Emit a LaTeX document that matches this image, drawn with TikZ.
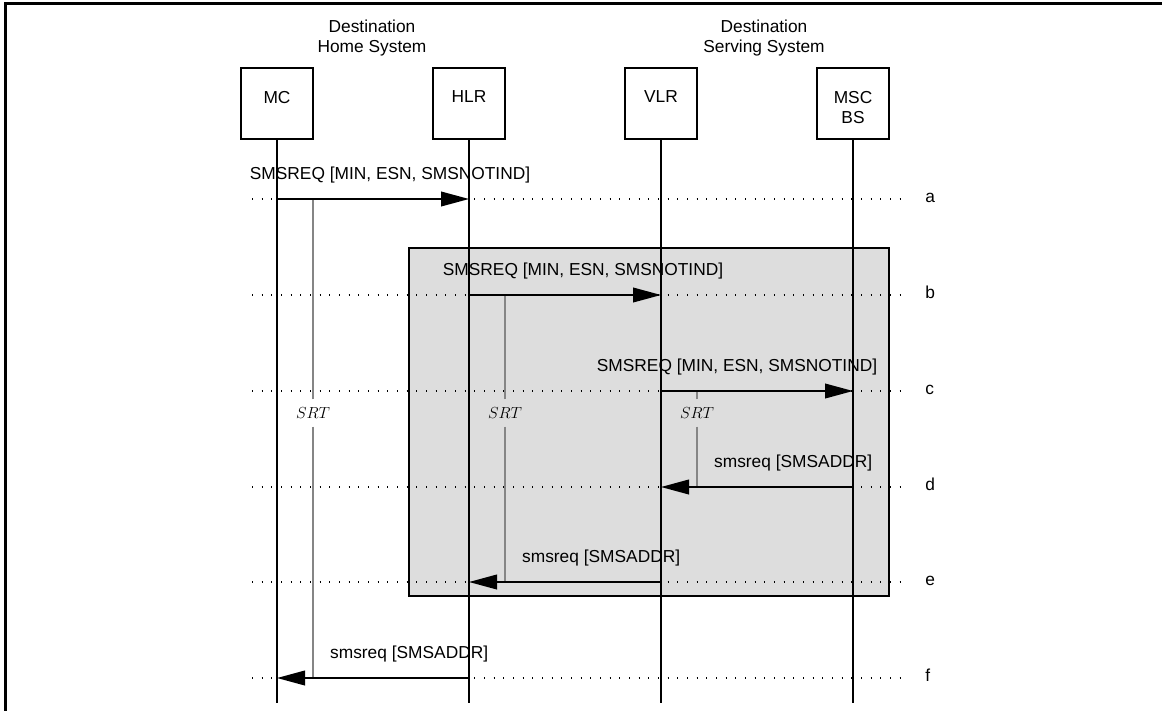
\documentclass[tikz,border=0pt]{standalone}
\usepackage{fontspec}
\setmainfont{Liberation Sans}
\usetikzlibrary{arrows.meta, positioning}
\definecolor{boxgray}{HTML}{DDDDDD}
\definecolor{srtgray}{HTML}{858585}
\tikzstyle{entity} = [rectangle, draw, line width=1.3pt, minimum width=54pt, minimum height=53pt]
\tikzstyle{entname} = [inner sep=0pt, align=center]
\tikzstyle{header} = [align=center, inner sep=0pt]
\tikzstyle{lifeline} = [line width=1.3pt]
\tikzstyle{rowline} = [line width=0.8pt, dash pattern=on 0.8pt off 6.45pt]
\tikzstyle{rowname} = [anchor=mid west, inner sep=0pt]
\tikzstyle{msg} = [line width=1.3pt, -{Triangle[length=21pt, width=11pt]}]
\tikzstyle{msgtext} = [inner sep=0pt, yshift=14.5pt]
\tikzstyle{srt} = [inner sep=1pt, minimum height=20pt, font=\fontsize{12.5}{14}\selectfont]
\tikzstyle{srtline} = [draw=srtgray, line width=1.3pt]
\tikzstyle{group} = [draw, fill=boxgray, line width=1.3pt]
\tikzstyle{frame} = [line width=2.25pt]

\begin{document}
\begin{tikzpicture}[x=0.75pt, y=-0.75pt, font=\fontsize{13}{15}\selectfont]
        \useasboundingbox (0,0) rectangle (1162,710);
        \draw[frame] (5.5,720) -- (5.5,4) -- (1170,4);
        \draw[group] (409,248) rectangle (889,596);
        \coordinate (bottom) at (0,703);
        \foreach \r/\y in {a/199,b/295,c/391,d/487,e/582,f/678} {
            \coordinate (row-\r) at (252,\y);
            \coordinate (end-\r) at (903,\y);
            \draw[rowline] (row-\r) -- (end-\r);
            \node[rowname] (name-\r) at (925,\y) {\r};
        }
        \node[header] (home) at (372,37.6) {Destination\\Home System};
        \node[header] (serving) at (764,37.6) {Destination\\Serving System};
        \node[srt] (srt-1) at (313,413) {$SRT$};
        \node[srt] (srt-2) at (505,413) {$SRT$};
        \node[srt] (srt-3) at (697,413) {$SRT$};
        \draw[srtline] (srt-1) -- (srt-1 |- row-a);
        \draw[srtline] (srt-1) -- (srt-1 |- row-f);
        \draw[srtline] (srt-2) -- (srt-2 |- row-b);
        \draw[srtline] (srt-2) -- (srt-2 |- row-e);
        \draw[srtline] (srt-3) -- (srt-3 |- row-c);
        \draw[srtline] (srt-3) -- (srt-3 |- row-d);
        \foreach \n/\x/\t in {mc/277/MC, hlr/469/HLR, vlr/661/VLR, msc/853/{MSC\\BS}} {
            \node[entity] (\n) at (\x,103.5) {};
            \node[entname, below=17.6pt of \n.north] (\n-name) {\t};
            \draw[lifeline] (\n) -- (\n |- bottom);
        }
        \draw[msg] (mc |- row-a) -- (hlr |- row-a) node[msgtext, pos=0, anchor=base west, xshift=-21pt] {SMSREQ [MIN, ESN, SMSNOTIND]};
        \draw[msg] (hlr |- row-b) -- (vlr |- row-b) node[msgtext, pos=0, anchor=base west, xshift=-20.25pt] {SMSREQ [MIN, ESN, SMSNOTIND]};
        \draw[msg] (vlr |- row-c) -- (msc |- row-c) node[msgtext, pos=1, anchor=base east, xshift=18.75pt] {SMSREQ [MIN, ESN, SMSNOTIND]};
        \draw[msg] (msc |- row-d) -- (vlr |- row-d) node[msgtext, pos=0, anchor=base east, xshift=15pt] {smsreq [SMSADDR]};
        \draw[msg] (vlr |- row-e) -- (hlr |- row-e) node[msgtext, pos=0, anchor=base east, xshift=15pt] {smsreq [SMSADDR]};
        \draw[msg] (hlr |- row-f) -- (mc |- row-f) node[msgtext, pos=0, anchor=base east, xshift=15pt] {smsreq [SMSADDR]};
    \end{tikzpicture}
\end{document}
